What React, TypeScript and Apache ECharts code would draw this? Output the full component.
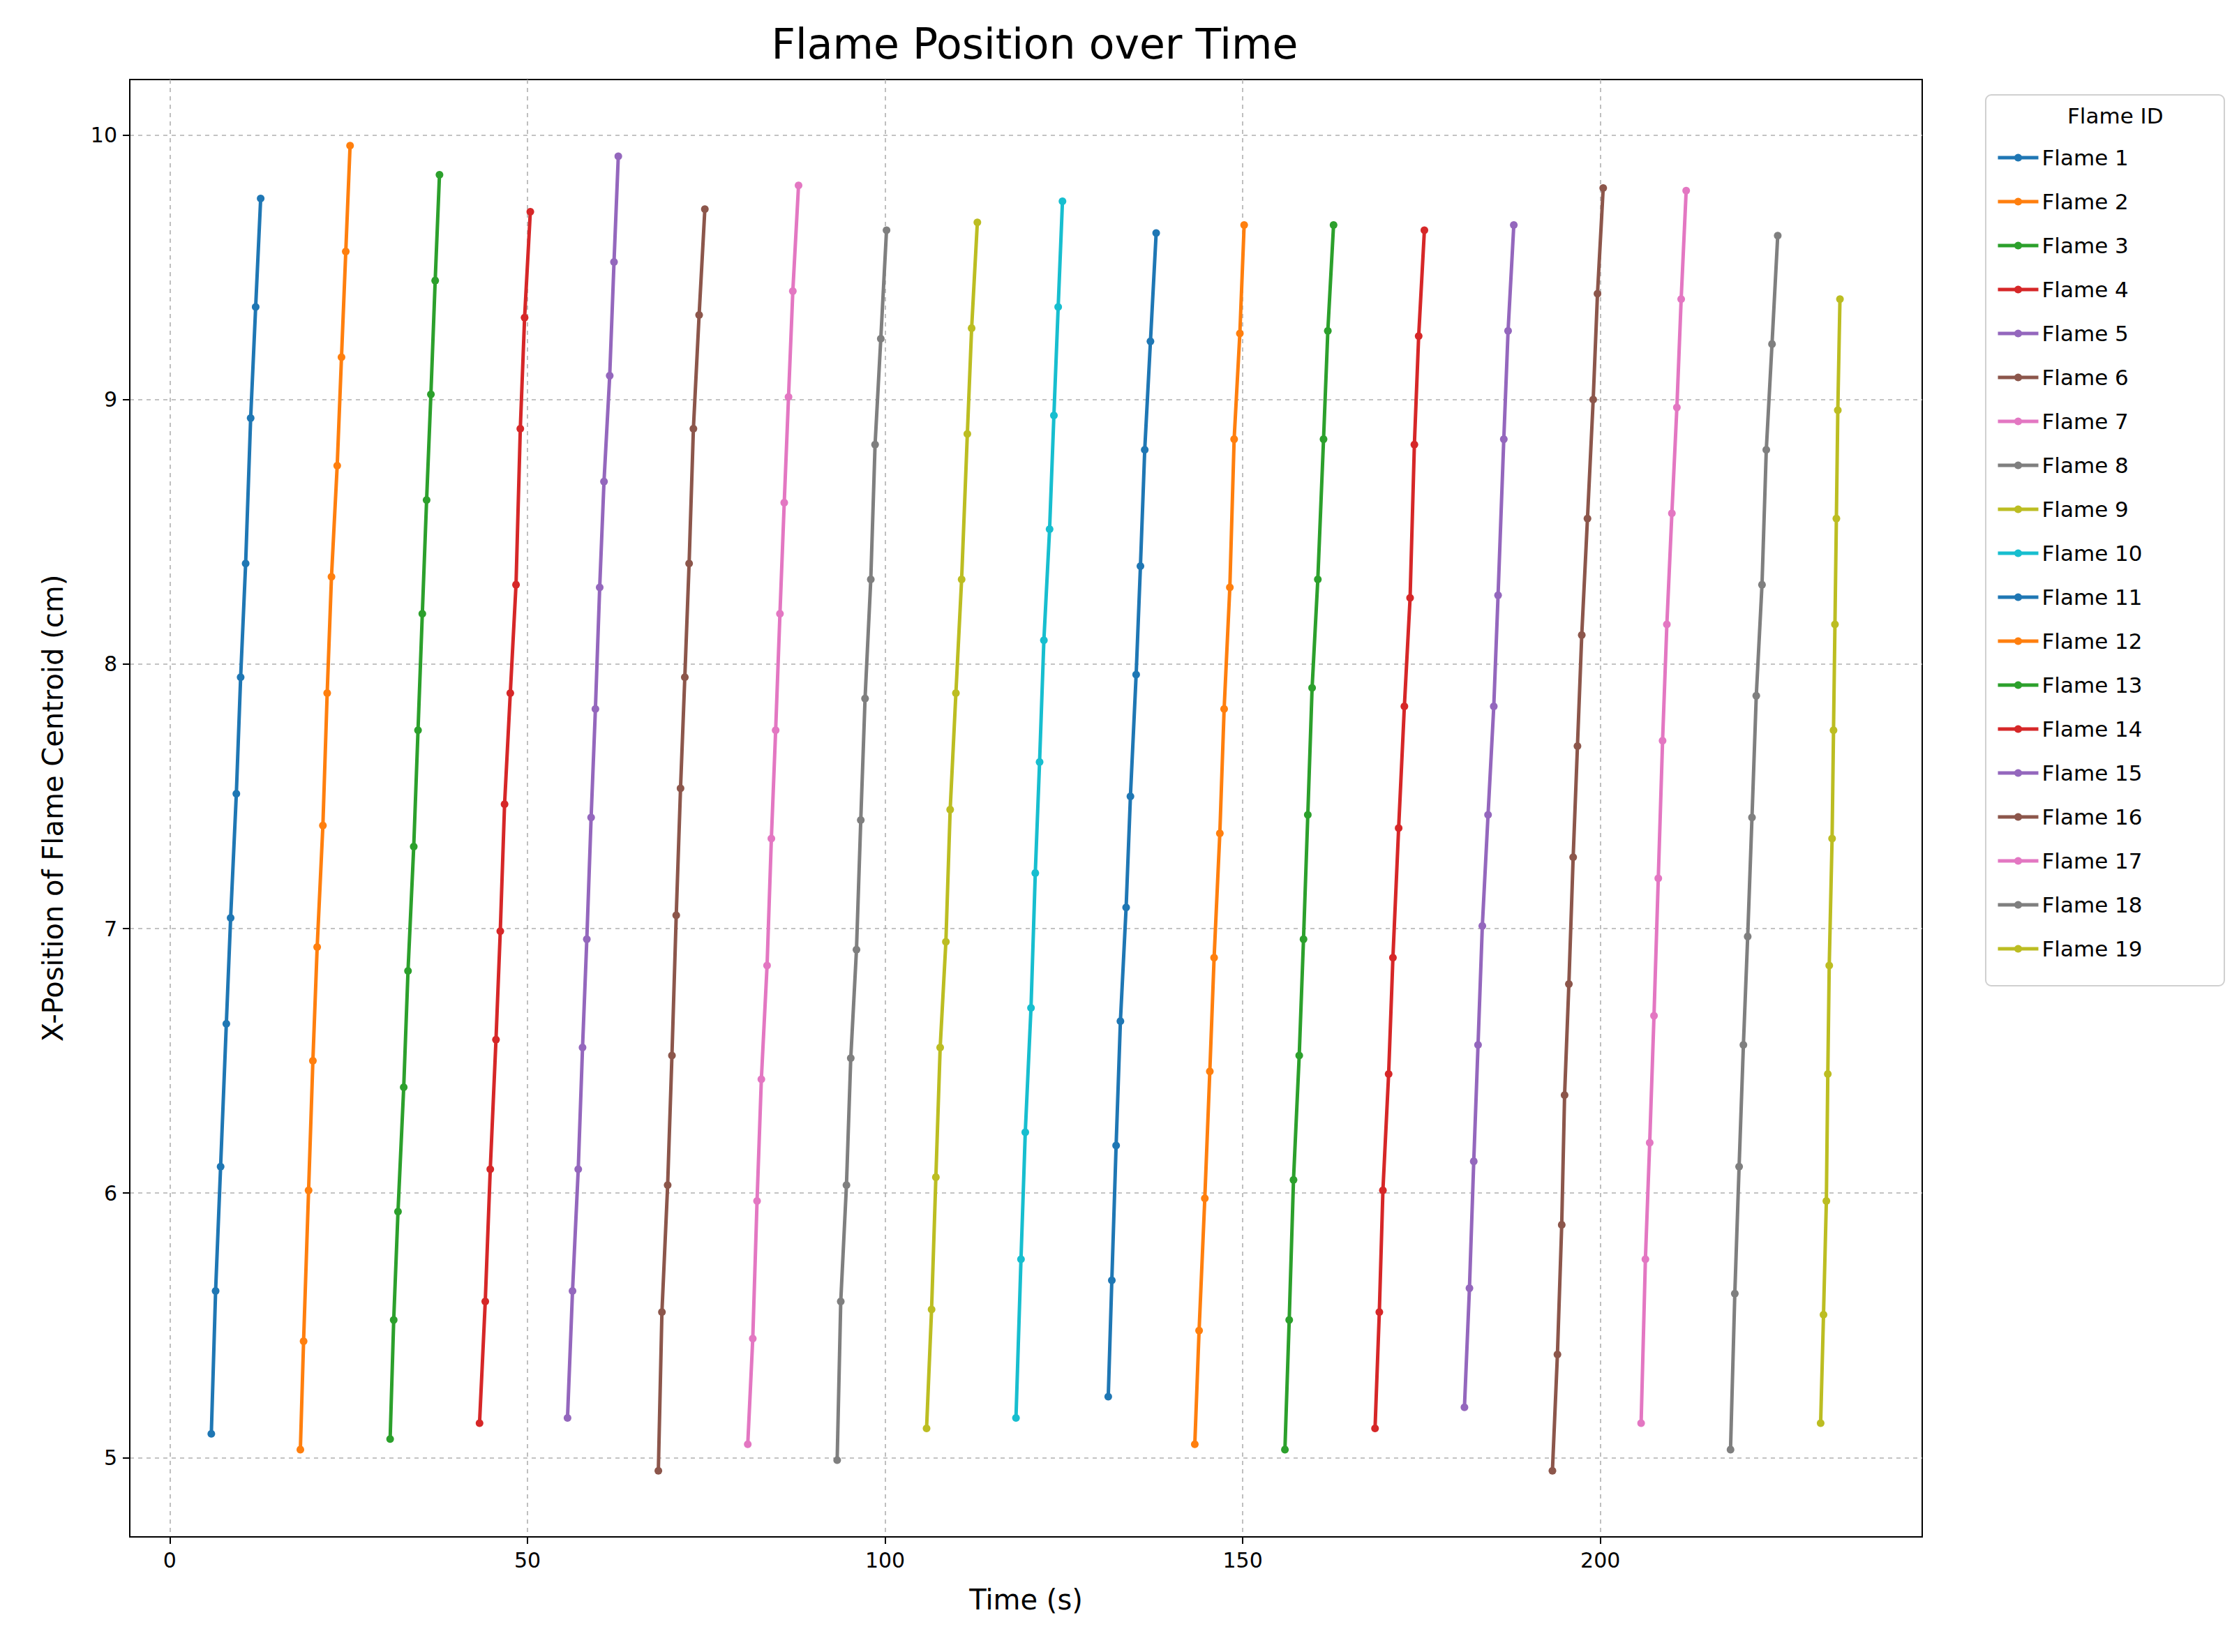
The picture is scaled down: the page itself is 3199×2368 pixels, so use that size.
import React, { useRef, useEffect } from 'react';
import * as echarts from 'echarts';

const flameNames = Array.from({ length: 19 }, (_, i) => `Flame ${i + 1}`);
const palette = ['#1f77b4', '#ff7f0e', '#2ca02c', '#d62728', '#9467bd', '#8c564b', '#e377c2', '#7f7f7f', '#bcbd22', '#17becf'];

const flameTimes = [
  [5.8, 6.4, 7.1, 7.9, 8.5, 9.3, 9.9, 10.6, 11.3, 12.0, 12.7],
  [18.25, 18.7, 19.4, 20.0, 20.6, 21.4, 22.0, 22.6, 23.4, 24.0, 24.6, 25.2],
  [30.8, 31.3, 31.9, 32.7, 33.3, 34.1, 34.7, 35.3, 35.9, 36.5, 37.1, 37.7],
  [43.3, 44.1, 44.8, 45.6, 46.2, 46.8, 47.6, 48.4, 49.0, 49.6, 50.4],
  [55.6, 56.3, 57.1, 57.7, 58.3, 58.9, 59.5, 60.1, 60.7, 61.5, 62.1, 62.7],
  [68.3, 68.8, 69.6, 70.2, 70.8, 71.4, 72.0, 72.6, 73.2, 74.0, 74.8],
  [80.8, 81.5, 82.1, 82.7, 83.5, 84.1, 84.7, 85.3, 85.9, 86.5, 87.1, 87.9],
  [93.3, 93.8, 94.6, 95.2, 96.0, 96.6, 97.2, 98.0, 98.6, 99.4, 100.2],
  [105.8, 106.5, 107.1, 107.7, 108.5, 109.1, 109.9, 110.7, 111.5, 112.1, 112.9],
  [118.3, 119.0, 119.6, 120.4, 121.0, 121.6, 122.2, 123.0, 123.6, 124.2, 124.8],
  [131.2, 131.7, 132.3, 132.9, 133.7, 134.3, 135.1, 135.7, 136.3, 137.1, 137.9],
  [143.3, 143.9, 144.7, 145.4, 146.0, 146.8, 147.4, 148.2, 148.8, 149.6, 150.2],
  [155.9, 156.5, 157.1, 157.9, 158.5, 159.1, 159.7, 160.5, 161.3, 161.9, 162.7],
  [168.5, 169.1, 169.6, 170.4, 171.0, 171.8, 172.6, 173.4, 174.0, 174.6, 175.4],
  [181.0, 181.7, 182.3, 182.9, 183.5, 184.3, 185.1, 185.7, 186.5, 187.1, 187.9],
  [193.3, 194.0, 194.6, 195.0, 195.6, 196.2, 196.8, 197.4, 198.2, 199.0, 199.6, 200.4],
  [205.7, 206.3, 206.9, 207.5, 208.1, 208.7, 209.3, 210.0, 210.7, 211.3, 212.0],
  [218.2, 218.8, 219.4, 220.0, 220.6, 221.2, 221.8, 222.6, 223.2, 224.0, 224.8],
  [230.8, 231.2, 231.6, 231.8, 232.0, 232.4, 232.6, 232.8, 233.0, 233.2, 233.5],
];

const flamePositions = [
  [5.09, 5.63, 6.10, 6.64, 7.04, 7.51, 7.95, 8.38, 8.93, 9.35, 9.76],
  [5.03, 5.44, 6.01, 6.50, 6.93, 7.39, 7.89, 8.33, 8.75, 9.16, 9.56, 9.96],
  [5.07, 5.52, 5.93, 6.40, 6.84, 7.31, 7.75, 8.19, 8.62, 9.02, 9.45, 9.85],
  [5.13, 5.59, 6.09, 6.58, 6.99, 7.47, 7.89, 8.30, 8.89, 9.31, 9.71],
  [5.15, 5.63, 6.09, 6.55, 6.96, 7.42, 7.83, 8.29, 8.69, 9.09, 9.52, 9.92],
  [4.95, 5.55, 6.03, 6.52, 7.05, 7.53, 7.95, 8.38, 8.89, 9.32, 9.72],
  [5.05, 5.45, 5.97, 6.43, 6.86, 7.34, 7.75, 8.19, 8.61, 9.01, 9.41, 9.81],
  [4.99, 5.59, 6.03, 6.51, 6.92, 7.41, 7.87, 8.32, 8.83, 9.23, 9.64],
  [5.11, 5.56, 6.06, 6.55, 6.95, 7.45, 7.89, 8.32, 8.87, 9.27, 9.67],
  [5.15, 5.75, 6.23, 6.70, 7.21, 7.63, 8.09, 8.51, 8.94, 9.35, 9.75],
  [5.23, 5.67, 6.18, 6.65, 7.08, 7.50, 7.96, 8.37, 8.81, 9.22, 9.63],
  [5.05, 5.48, 5.98, 6.46, 6.89, 7.36, 7.83, 8.29, 8.85, 9.25, 9.66],
  [5.03, 5.52, 6.05, 6.52, 6.96, 7.43, 7.91, 8.32, 8.85, 9.26, 9.66],
  [5.11, 5.55, 6.01, 6.45, 6.89, 7.38, 7.84, 8.25, 8.83, 9.24, 9.64],
  [5.19, 5.64, 6.12, 6.56, 7.01, 7.43, 7.84, 8.26, 8.85, 9.26, 9.66],
  [4.95, 5.39, 5.88, 6.37, 6.79, 7.27, 7.69, 8.11, 8.55, 9.00, 9.40, 9.80],
  [5.13, 5.75, 6.19, 6.67, 7.19, 7.71, 8.15, 8.57, 8.97, 9.38, 9.79],
  [5.03, 5.62, 6.10, 6.56, 6.97, 7.42, 7.88, 8.30, 8.81, 9.21, 9.62],
  [5.13, 5.54, 5.97, 6.45, 6.86, 7.34, 7.75, 8.15, 8.55, 8.96, 9.38],
];

const xTicks = [0, 50, 100, 150, 200];
const yTicks = [5, 6, 7, 8, 9, 10];

const App = () => {
  const chartRef = useRef(null);

  useEffect(() => {
    const myChart = echarts.init(chartRef.current, null, { renderer: 'svg' });
    const gridLine = { show: true, lineStyle: { color: '#b0b0b0', type: [6, 6], width: 1.6 } };
    const series = flameNames.map((name, i) => ({
      name,
      type: 'line',
      data: flameTimes[i].map((t, j) => [t, flamePositions[i][j]]),
      color: palette[i % 10],
      symbol: 'circle',
      symbolSize: 11,
      lineStyle: { width: 5 },
    }));

    const option = {
      animation: false,
      backgroundColor: '#fff',
      textStyle: { fontFamily: 'DejaVu Sans' },
      title: {
        text: 'Flame Position over Time',
        left: 1470, top: 20, textAlign: 'center',
        textStyle: { fontSize: 60, fontWeight: 'normal', color: '#000' },
      },
      grid: { left: 178, right: 436, top: 106, bottom: 157, show: true, borderColor: '#000', borderWidth: 2 },
      xAxis: {
        type: 'value', min: -5.6, max: 245,
        name: 'Time (s)', nameLocation: 'middle', nameGap: 70,
        nameTextStyle: { fontSize: 40, color: '#000' },
        axisLine: { onZero: false, lineStyle: { color: '#000', width: 2 } },
        axisTick: { show: true, customValues: xTicks, length: 10, lineStyle: { color: '#000', width: 2 } },
        axisLabel: { customValues: xTicks, fontSize: 30, color: '#000', margin: 18 },
        splitLine: gridLine,
      },
      yAxis: {
        type: 'value', min: 4.7, max: 10.21,
        name: 'X-Position of Flame Centroid (cm)', nameLocation: 'middle', nameGap: 90,
        nameTextStyle: { fontSize: 40, color: '#000' },
        axisLine: { show: true, onZero: false, lineStyle: { color: '#000', width: 2 } },
        axisTick: { show: true, customValues: yTicks, length: 10, lineStyle: { color: '#000', width: 2 } },
        axisLabel: { customValues: yTicks, fontSize: 30, color: '#000', margin: 18 },
        splitLine: gridLine,
      },
      graphic: [
        {
          type: 'rect', left: 2837, top: 127,
          shape: { width: 342, height: 1277, r: 8 },
          style: { fill: '#fff', stroke: '#d0d0d0', lineWidth: 2 },
          z: 0,
        },
        {
          type: 'text', left: 2955, top: 142,
          style: { text: 'Flame ID', fontSize: 31, fill: '#000', fontFamily: 'DejaVu Sans' },
          z: 10,
        },
      ],
      legend: {
        orient: 'vertical', left: 2848, top: 194,
        itemWidth: 58, itemHeight: 14, itemGap: 25,
        lineStyle: { width: 5 },
        textStyle: { fontSize: 31, color: '#000', lineHeight: 38 },
        data: flameNames,
        z: 10,
      },
      series,
    };

    myChart.setOption(option);
    return () => {
      myChart.dispose();
    };
  }, []);

  return <div ref={chartRef} style={{ width: '3183px', height: '2352px' }} />;
};

export default App;
